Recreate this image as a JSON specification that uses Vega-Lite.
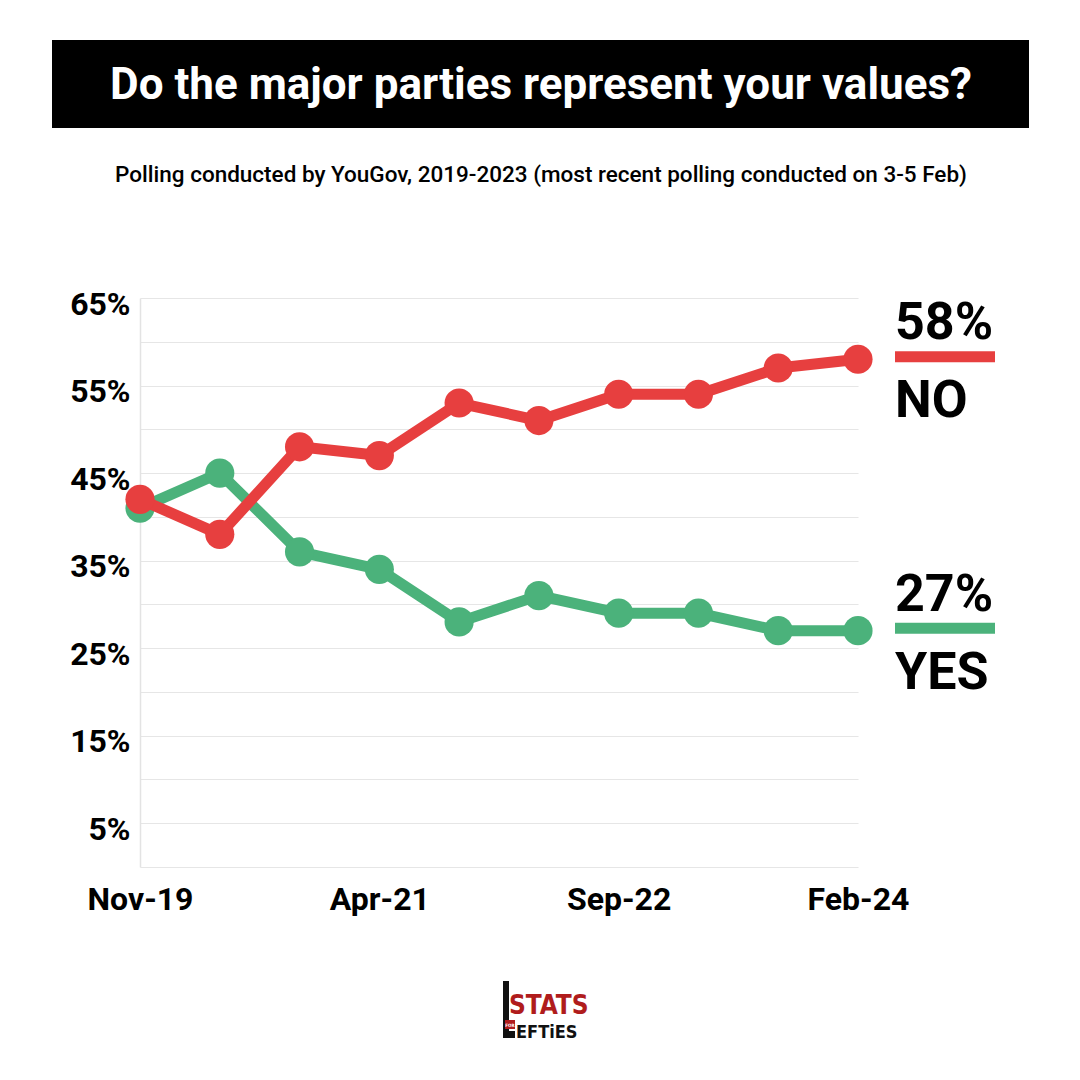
{
  "$schema": "https://vega.github.io/schema/vega-lite/v6.json",
  "width": 718,
  "height": 569,
  "autosize": {"type": "none"},
  "padding": {"left": 140, "top": 298, "right": 222, "bottom": 213},
  "background": "white",
  "config": {"view": {"stroke": null}, "font": "Roboto"},
  "datasets": {
    "polls": [
      {"month": "Nov-19", "answer": "YES", "pct": 41},
      {"month": "May-20", "answer": "YES", "pct": 45},
      {"month": "Oct-20", "answer": "YES", "pct": 36},
      {"month": "Apr-21", "answer": "YES", "pct": 34},
      {"month": "Oct-21", "answer": "YES", "pct": 28},
      {"month": "Mar-22", "answer": "YES", "pct": 31},
      {"month": "Sep-22", "answer": "YES", "pct": 29},
      {"month": "Mar-23", "answer": "YES", "pct": 29},
      {"month": "Aug-23", "answer": "YES", "pct": 27},
      {"month": "Feb-24", "answer": "YES", "pct": 27},
      {"month": "Nov-19", "answer": "NO", "pct": 42},
      {"month": "May-20", "answer": "NO", "pct": 38},
      {"month": "Oct-20", "answer": "NO", "pct": 48},
      {"month": "Apr-21", "answer": "NO", "pct": 47},
      {"month": "Oct-21", "answer": "NO", "pct": 53},
      {"month": "Mar-22", "answer": "NO", "pct": 51},
      {"month": "Sep-22", "answer": "NO", "pct": 54},
      {"month": "Mar-23", "answer": "NO", "pct": 54},
      {"month": "Aug-23", "answer": "NO", "pct": 57},
      {"month": "Feb-24", "answer": "NO", "pct": 58}
    ],
    "blank": [{}]
  },
  "layer": [
    {
      "data": {"name": "blank"},
      "mark": {"type": "rect", "fill": "#000000", "x": -88, "x2": 889, "y": -258, "y2": -170},
      "encoding": {}
    },
    {
      "data": {"name": "blank"},
      "mark": {"type": "text", "x": 401, "y": -199, "align": "center", "baseline": "alphabetic",
               "font": "Roboto", "fontWeight": "bold", "fontSize": 44, "fill": "#ffffff",
               "text": "Do the major parties represent your values?"},
      "encoding": {}
    },
    {
      "data": {"name": "blank"},
      "mark": {"type": "text", "x": 401, "y": -116, "align": "center", "baseline": "alphabetic",
               "font": "Roboto", "fontWeight": 500, "fontSize": 22.5, "fill": "#000000",
               "text": "Polling conducted by YouGov, 2019-2023 (most recent polling conducted on 3-5 Feb)"},
      "encoding": {}
    },
    {
      "data": {"name": "blank"},
      "mark": {"type": "rule", "x": -88, "x2": 889, "y": -79, "y2": -79, "stroke": "#000000", "strokeWidth": 2},
      "encoding": {}
    },
    {
      "data": {"name": "blank"},
      "mark": {"type": "rule", "x": -88, "x2": 889, "y": 639, "y2": 639, "stroke": "#d9d9d9", "strokeWidth": 2},
      "encoding": {}
    },
    {
      "data": {"name": "blank"},
      "mark": {"type": "rect", "fill": "#111111", "x": 363, "x2": 369, "y": 683, "y2": 740},
      "encoding": {}
    },
    {
      "data": {"name": "blank"},
      "mark": {"type": "rect", "fill": "#111111", "x": 363, "x2": 375, "y": 733, "y2": 740},
      "encoding": {}
    },
    {
      "data": {"name": "blank"},
      "mark": {"type": "rect", "fill": "#b01c1c", "x": 365, "x2": 375, "y": 722, "y2": 731},
      "encoding": {}
    },
    {
      "data": {"name": "blank"},
      "mark": {"type": "text", "x": 370, "y": 729, "align": "center", "baseline": "alphabetic",
               "font": "'DejaVu Sans Condensed', 'Liberation Sans', sans-serif", "fontWeight": "bold", "fontSize": 4.5, "fill": "#ffffff", "text": "FOR"},
      "encoding": {}
    },
    {
      "data": {"name": "blank"},
      "mark": {"type": "text", "x": 369, "y": 716, "align": "left", "baseline": "alphabetic",
               "font": "'DejaVu Sans Condensed', 'Liberation Sans', sans-serif", "fontWeight": "bold", "fontSize": 26, "fill": "#b01c1c", "text": "STATS"},
      "encoding": {}
    },
    {
      "data": {"name": "blank"},
      "mark": {"type": "text", "x": 376, "y": 740, "align": "left", "baseline": "alphabetic",
               "font": "'DejaVu Sans Condensed', 'Liberation Sans', sans-serif", "fontWeight": "bold", "fontSize": 18, "fill": "#111111", "text": "EFTiES"},
      "encoding": {}
    },
    {
      "data": {"name": "polls"},
      "transform": [{"filter": "datum.answer === 'YES'"}],
      "mark": {"type": "line", "strokeWidth": 11, "strokeJoin": "round"},
      "encoding": {
        "x": {
          "field": "month", "type": "ordinal",
          "scale": {"type": "point", "domain": ["Nov-19", "May-20", "Oct-20", "Apr-21", "Oct-21", "Mar-22", "Sep-22", "Mar-23", "Aug-23", "Feb-24"], "padding": 0},
          "axis": {
            "title": null, "domain": false, "ticks": false, "grid": false,
            "labelAngle": 0, "labelFont": "Roboto", "labelFontWeight": "bold", "labelFontSize": 32,
            "labelColor": "#000000", "labelBaseline": "alphabetic", "labelPadding": 42,
            "labelOverlap": false, "labelBound": false, "labelFlush": false,
            "labelExpr": "indexof(['Nov-19', 'Apr-21', 'Sep-22', 'Feb-24'], datum.value) >= 0 ? datum.value : ''"
          }
        },
        "y": {
          "field": "pct", "type": "quantitative",
          "scale": {"domain": [0, 65], "nice": false, "zero": true},
          "axis": {
            "title": null, "values": [0, 5, 10, 15, 20, 25, 30, 35, 40, 45, 50, 55, 60, 65],
            "domain": true, "domainColor": "#e3e3e3", "domainWidth": 1.5,
            "ticks": false, "grid": true, "gridColor": "#e6e6e6", "gridWidth": 1.2,
            "labelFont": "Roboto", "labelFontWeight": "bold", "labelFontSize": 32, "labelColor": "#000000",
            "labelBaseline": "alphabetic", "labelOffset": 16, "labelPadding": 10,
            "labelExpr": "datum.value % 10 === 5 ? datum.value + '%' : ''"
          }
        },
        "color": {"field": "answer", "type": "nominal", "scale": {"domain": ["YES", "NO"], "range": ["#4bb27b", "#e73f3f"]}, "legend": null}
      }
    },
    {
      "data": {"name": "polls"},
      "transform": [{"filter": "datum.answer === 'YES'"}],
      "mark": {"type": "point", "filled": true, "opacity": 1, "size": 850},
      "encoding": {
        "x": {"field": "month", "type": "ordinal"},
        "y": {"field": "pct", "type": "quantitative"},
        "color": {"field": "answer", "type": "nominal"}
      }
    },
    {
      "data": {"name": "polls"},
      "transform": [{"filter": "datum.answer === 'NO'"}],
      "mark": {"type": "line", "strokeWidth": 11, "strokeJoin": "round"},
      "encoding": {
        "x": {"field": "month", "type": "ordinal"},
        "y": {"field": "pct", "type": "quantitative"},
        "color": {"field": "answer", "type": "nominal"}
      }
    },
    {
      "data": {"name": "polls"},
      "transform": [{"filter": "datum.answer === 'NO'"}],
      "mark": {"type": "point", "filled": true, "opacity": 1, "size": 850},
      "encoding": {
        "x": {"field": "month", "type": "ordinal"},
        "y": {"field": "pct", "type": "quantitative"},
        "color": {"field": "answer", "type": "nominal"}
      }
    },
    {
      "data": {"name": "polls"},
      "transform": [{"filter": "datum.month === 'Feb-24'"}],
      "mark": {"type": "rule", "strokeWidth": 11, "strokeCap": "butt", "xOffset": 37, "x2Offset": 137, "yOffset": -2.5},
      "encoding": {
        "x": {"field": "month", "type": "ordinal"},
        "x2": {"field": "month"},
        "y": {"field": "pct", "type": "quantitative"},
        "color": {"field": "answer", "type": "nominal"}
      }
    },
    {
      "data": {"name": "polls"},
      "transform": [{"filter": "datum.month === 'Feb-24'"}, {"calculate": "datum.pct + '%'", "as": "pctLabel"}],
      "mark": {"type": "text", "align": "left", "baseline": "alphabetic", "dx": 37, "dy": -20,
               "font": "Roboto", "fontWeight": "bold", "fontSize": 52, "fill": "#000000"},
      "encoding": {
        "x": {"field": "month", "type": "ordinal"},
        "y": {"field": "pct", "type": "quantitative"},
        "text": {"field": "pctLabel"}
      }
    },
    {
      "data": {"name": "polls"},
      "transform": [{"filter": "datum.month === 'Feb-24'"}],
      "mark": {"type": "text", "align": "left", "baseline": "alphabetic", "dx": 37, "dy": 58,
               "font": "Roboto", "fontWeight": "bold", "fontSize": 52, "fill": "#000000"},
      "encoding": {
        "x": {"field": "month", "type": "ordinal"},
        "y": {"field": "pct", "type": "quantitative"},
        "text": {"field": "answer"}
      }
    }
  ]
}
